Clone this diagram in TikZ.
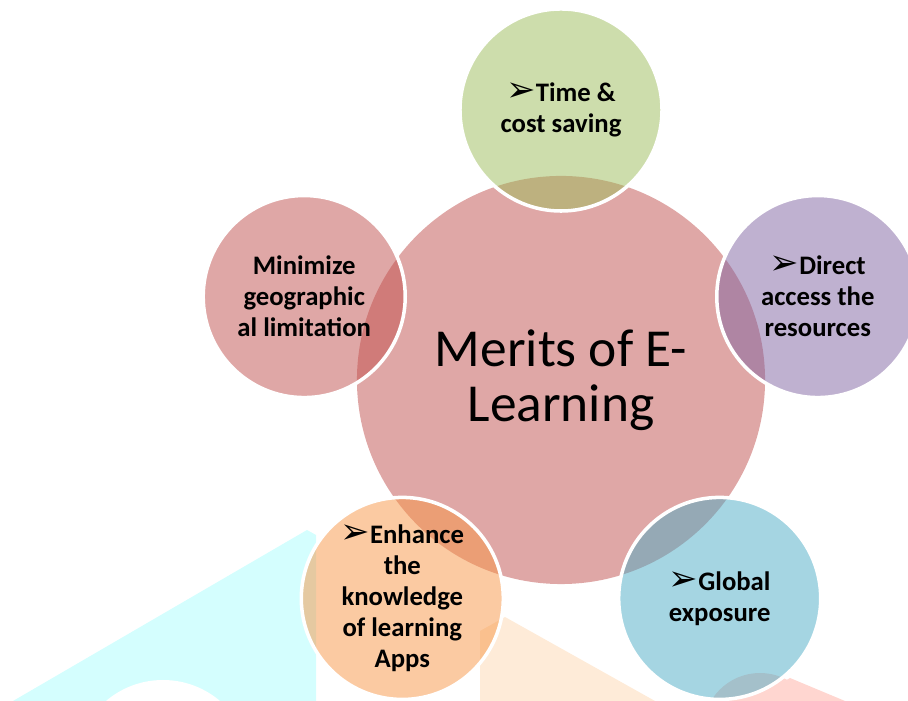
\documentclass[tikz,border=0pt]{standalone}
\usepackage{fontspec}
\setmainfont{Carlito}
\newfontfamily\dingfont{DejaVu Sans}
\usetikzlibrary{positioning}

\definecolor{meritred}{HTML}{C0504D}
\definecolor{meritgreen}{HTML}{9BBB59}
\definecolor{meritpurple}{HTML}{8064A2}
\definecolor{meritblue}{HTML}{4BACC6}
\definecolor{meritorange}{HTML}{F79646}
\definecolor{markcyan}{HTML}{D4FEFE}
\definecolor{markorange}{HTML}{FEEBD8}
\definecolor{markpink}{HTML}{FFD6D0}

\newcommand{\pointer}{{\dingfont\mdseries\fontsize{25}{22}\selectfont ➢}}

\tikzset{
  hub/.style={circle, fill=meritred, fill opacity=0.5, text opacity=1,
    minimum size=10.2cm, inner sep=0pt, align=center,
    font=\fontsize{38}{39}\selectfont},
  petal/.style={circle, draw=white, line width=2.5pt, fill=#1,
    fill opacity=0.5, draw opacity=1, text opacity=1,
    minimum size=5.05cm, inner sep=0pt, align=center,
    font=\bfseries\fontsize{19}{22}\selectfont}
}

\begin{document}
\begin{tikzpicture}[x=0.025cm,y=0.025cm]
\useasboundingbox (0,0) rectangle (908,701);
% faint watermark behind
\fill[markcyan] (13,0) -- (307,171) -- (316,166) -- (316,0) -- cycle;
\fill[white] (163,-67) circle (88);
\fill[markorange] (480,70) -- (505,84) -- (655,0) -- (480,0) -- cycle;
\fill[markpink] (750,0) -- (790,23) -- (845,0) -- cycle;
\fill[markpink] (760,-29) circle (57);
% hub and petals
\node[hub] (hub) at (561,321) {Merits of E-\\Learning};
\node[petal=meritgreen] (time) at ([shift={(90:270)}]hub.center) {\pointer Time \&\\cost saving};
\node[petal=meritpurple] (access) at ([shift={(18:270)}]hub.center) {\pointer Direct\\access the\\resources};
\node[petal=meritblue] (exposure) at ([shift={(-54:270)}]hub.center) {\pointer Global\\exposure};
\node[petal=meritorange] (enhance) at ([shift={(-126:270)}]hub.center) {\pointer Enhance\\the\\knowledge\\of learning\\Apps};
\node[petal=meritred] (minimize) at ([shift={(162:270)}]hub.center) {Minimize\\geographic\\al limitation};
\end{tikzpicture}
\end{document}
